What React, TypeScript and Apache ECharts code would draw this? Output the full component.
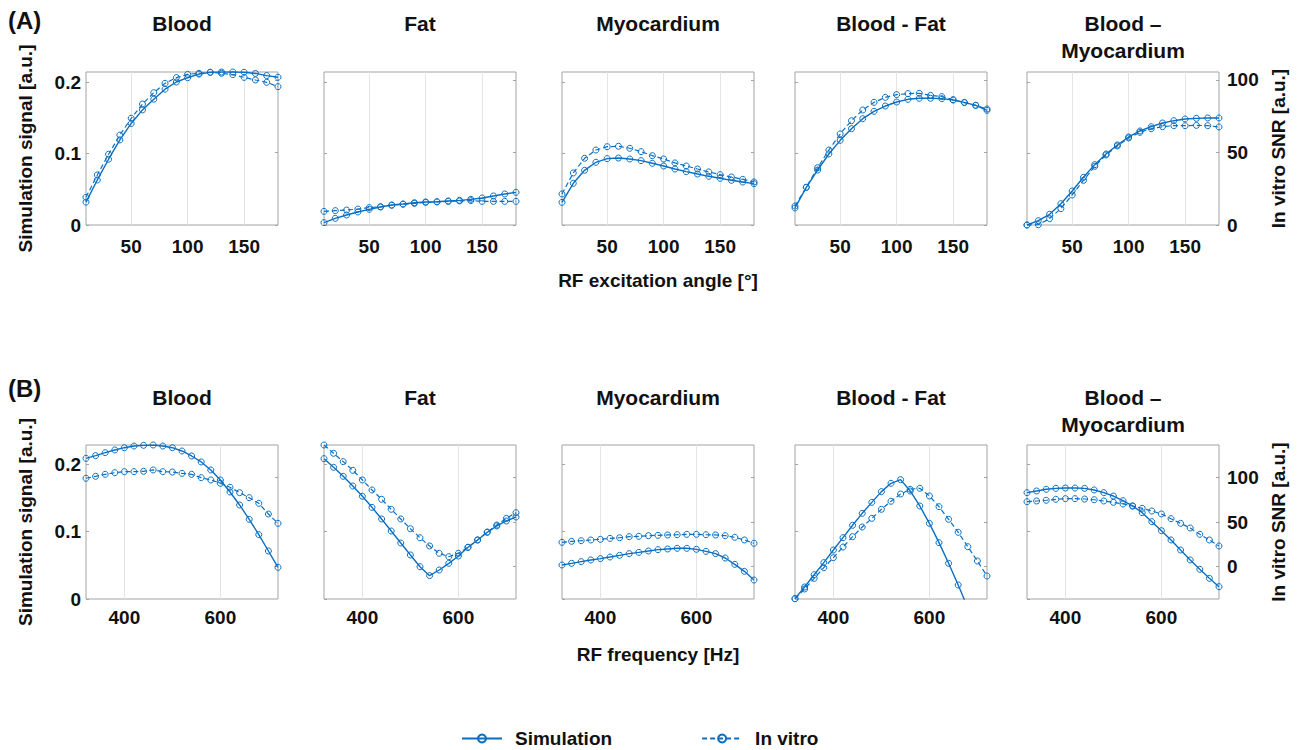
import React, { useEffect, useRef } from 'react';
import * as echarts from 'echarts';

// ---------- data ----------
const anglesA = [10, 20, 30, 40, 50, 60, 70, 80, 90, 100, 110, 120, 130, 140, 150, 160, 170, 180];
const freqsB = [320, 340, 360, 380, 400, 420, 440, 460, 480, 500, 520, 540, 560, 580, 600, 620, 640, 660, 680, 700, 720];

const panelTitles = ['Blood', 'Fat', 'Myocardium', 'Blood - Fat', 'Blood –\nMyocardium'];

const xTicksA = [50, 100, 150];
const xTicksB = [400, 600];
const leftTicks = [0, 0.1, 0.2];
const rightTicks = [0, 50, 100];

// (A) RF excitation angle: simulation signal [a.u.]
const bloodSimA = [0.032, 0.063, 0.092, 0.119, 0.142, 0.161, 0.176, 0.19, 0.2, 0.206, 0.211, 0.2136, 0.214, 0.214, 0.2136, 0.212, 0.209, 0.2066];
const fatSimA = [0.0033, 0.0093, 0.014, 0.0182, 0.0219, 0.0252, 0.028, 0.0294, 0.0312, 0.0322, 0.0326, 0.0336, 0.0345, 0.0359, 0.0378, 0.0406, 0.0434, 0.0457];
const myoSimA = [0.0317, 0.0583, 0.0765, 0.0877, 0.0928, 0.0937, 0.0923, 0.09, 0.0863, 0.0825, 0.0783, 0.0746, 0.0713, 0.0681, 0.0653, 0.0625, 0.0601, 0.0578];
const bloodFatSimA = [0.0238, 0.0527, 0.0769, 0.0993, 0.1184, 0.1347, 0.1487, 0.159, 0.1664, 0.172, 0.1758, 0.1772, 0.1772, 0.1767, 0.1748, 0.1716, 0.1674, 0.1604];
const bloodMyoSimA = [0.0, 0.006, 0.015, 0.0298, 0.0476, 0.0667, 0.0844, 0.0993, 0.1119, 0.1231, 0.1315, 0.1375, 0.1427, 0.1459, 0.1483, 0.1492, 0.1497, 0.1497];

// (A) in vitro SNR [a.u.]
const bloodVitroA = [19.1, 34.5, 48.8, 62, 73.6, 83.4, 91.2, 97.7, 101.6, 103.9, 104.6, 105.3, 104.6, 103.7, 101.8, 100, 98.4, 95.4];
const fatVitroA = [9.4, 9.9, 10.3, 11.0, 12.0, 12.6, 13.6, 14.3, 14.9, 15.6, 15.9, 16.3, 16.6, 16.8, 16.3, 16.3, 16.3, 16.3];
const myoVitroA = [21.4, 35.9, 46, 51.7, 54, 54.3, 52.9, 50.6, 47.8, 45.5, 42.8, 40.7, 38.6, 36.6, 34.7, 33.1, 31.5, 29.7];
const bloodFatVitroA = [13.1, 26, 39.5, 51.7, 62.8, 71.9, 79.3, 84.6, 88, 89.9, 90.6, 90.8, 89.4, 88.5, 86.4, 84.4, 82.5, 80];
const bloodMyoVitroA = [0, 0.2, 4.4, 11.3, 20.7, 30.8, 40.5, 48.3, 54.5, 60, 63.9, 66.4, 67.8, 68.5, 68.5, 68.7, 68.5, 67.6];

// (B) RF frequency: simulation signal [a.u.]
const bloodSimB = [0.209, 0.213, 0.2174, 0.2214, 0.2248, 0.2273, 0.2283, 0.2288, 0.2273, 0.2248, 0.2199, 0.2125, 0.2036, 0.1917, 0.1768, 0.159, 0.1397, 0.1184, 0.0956, 0.0713, 0.0471];
const fatSimB = [0.2085, 0.1956, 0.1823, 0.1679, 0.1526, 0.1362, 0.1189, 0.101, 0.0832, 0.0654, 0.048, 0.0347, 0.0431, 0.053, 0.0639, 0.0768, 0.0877, 0.0991, 0.1085, 0.1159, 0.1218];
const myoSimB = [0.0505, 0.053, 0.0555, 0.058, 0.06, 0.0624, 0.0649, 0.0674, 0.0693, 0.0713, 0.0733, 0.0743, 0.0753, 0.0753, 0.0738, 0.0708, 0.0674, 0.0609, 0.0515, 0.0411, 0.0282];
const bloodFatSimB = [0.0005, 0.0178, 0.0361, 0.054, 0.0728, 0.0911, 0.1095, 0.1273, 0.1436, 0.1595, 0.1719, 0.1773, 0.1605, 0.1382, 0.1124, 0.0837, 0.053, 0.0208, -0.013, -0.045, -0.075];
const bloodMyoSimB = [0.158, 0.1605, 0.163, 0.1644, 0.1649, 0.1649, 0.1644, 0.162, 0.158, 0.153, 0.146, 0.1382, 0.1283, 0.1149, 0.1015, 0.0877, 0.0728, 0.058, 0.0441, 0.0307, 0.0183];

// (B) in vitro SNR [a.u.]
const bloodVitroB = [98.9, 101.1, 103.3, 105.1, 106.3, 106.3, 106.7, 108.2, 106.3, 105.9, 104.4, 103.3, 99.6, 97, 93.3, 88.8, 82.8, 77.2, 70.9, 58.9, 48.5];
const fatVitroB = [136.1, 126.8, 117.5, 107.8, 97, 85.8, 75.4, 64.2, 53.4, 42.5, 32.4, 23.2, 15, 11.2, 15, 21.7, 29.9, 38.8, 46.6, 54.1, 60.4];
const myoVitroB = [27.3, 28.4, 29.1, 29.9, 30.6, 31.7, 32.4, 33.6, 34, 34.7, 35.1, 35.5, 35.8, 36.2, 36.2, 35.8, 35.5, 34.7, 32.9, 29.9, 26.2];
const bloodFatVitroB = [-35.8, -24.9, -13, -1.1, 10.1, 22, 33.6, 44.4, 54.1, 64.2, 73.2, 81.3, 86.6, 87.7, 79.1, 67.1, 53, 38.5, 22.4, 6.4, -10.4];
const bloodMyoVitroB = [72.7, 73.5, 74.3, 75.4, 76.1, 76.1, 75.7, 74.9, 73.5, 72, 70.1, 67.9, 65.3, 62.3, 59, 53.7, 48.5, 43.3, 36.2, 29.9, 23.2];

// ---------- styling / layout ----------
const FONT = '"Liberation Sans", Arial, Helvetica, sans-serif';
const BLUE = '#0a6fc2';
const TEXT = '#111111';
const BOX = '#a3a3a3';
const GRIDC = '#e4e4e4';
const PLOT_LEFTS = [86, 324, 562, 795, 1027];
const PLOT_W = 192;

const rows = [
  {
    label: '(A)', labelY: 20, titleY: 9.5,
    xs: anglesA, xMin: 10, xMax: 180, xTicks: xTicksA,
    leftMax: 0.214, rightMin: 0, rightMax: 105.5,
    top: 72, height: 153, labelMargin: 12, xName: 'RF excitation angle [°]', xNameGap: 46,
    sims: [bloodSimA, fatSimA, myoSimA, bloodFatSimA, bloodMyoSimA],
    vitros: [bloodVitroA, fatVitroA, myoVitroA, bloodFatVitroA, bloodMyoVitroA],
  },
  {
    label: '(B)', labelY: 388, titleY: 383.5,
    xs: freqsB, xMin: 320, xMax: 720, xTicks: xTicksB,
    leftMax: 0.2288, rightMin: -36.1, rightMax: 136.1,
    top: 445, height: 154, labelMargin: 9, xName: 'RF frequency [Hz]', xNameGap: 46,
    sims: [bloodSimB, fatSimB, myoSimB, bloodFatSimB, bloodMyoSimB],
    vitros: [bloodVitroB, fatVitroB, myoVitroB, bloodFatVitroB, bloodMyoVitroB],
  },
];

const labelStyle = { fontSize: 19, fontWeight: 'bold' as const, color: TEXT, fontFamily: FONT };

function buildOption() {
  const grid: any[] = [];
  const xAxis: any[] = [];
  const yAxis: any[] = [];
  const series: any[] = [];
  const graphic: any[] = [];

  rows.forEach((row, r) => {
    graphic.push({
      type: 'text', x: 8, y: row.labelY,
      style: { text: row.label, fill: TEXT, font: `bold 24px ${FONT}`, align: 'left', verticalAlign: 'middle' },
    });
    PLOT_LEFTS.forEach((left, c) => {
      const gi = r * 5 + c;
      graphic.push({
        type: 'text', x: left + PLOT_W / 2, y: row.titleY,
        style: { text: panelTitles[c], fill: TEXT, font: `bold 21px ${FONT}`, align: 'center', verticalAlign: 'top', lineHeight: 27 },
      });
      grid.push({
        left, top: row.top, width: PLOT_W, height: row.height,
        show: true, borderColor: BOX, borderWidth: 1, backgroundColor: 'transparent',
      });
      xAxis.push({
        type: 'value', gridIndex: gi, min: row.xMin, max: row.xMax,
        axisLine: { show: false },
        axisTick: { show: true, inside: true, length: 3, customValues: row.xTicks, lineStyle: { color: BOX } },
        axisLabel: { show: true, customValues: row.xTicks, margin: row.labelMargin, ...labelStyle },
        splitLine: { show: false },
        name: c === 2 ? row.xName : '', nameLocation: 'middle', nameGap: row.xNameGap,
        nameTextStyle: labelStyle,
      });
      yAxis.push({
        type: 'value', gridIndex: gi, position: 'left', min: 0, max: row.leftMax,
        axisLine: { show: false },
        axisTick: { show: true, inside: true, length: 3, customValues: leftTicks, lineStyle: { color: BOX } },
        axisLabel: { show: c === 0, customValues: leftTicks, margin: 5, ...labelStyle },
        splitLine: { show: false },
        name: c === 0 ? 'Simulation signal [a.u.]' : '', nameLocation: 'middle', nameGap: 51, nameRotate: 90,
        nameTextStyle: labelStyle,
      });
      yAxis.push({
        type: 'value', gridIndex: gi, position: 'right', min: row.rightMin, max: row.rightMax,
        axisLine: { show: false },
        axisTick: { show: true, inside: true, length: 3, customValues: rightTicks, lineStyle: { color: BOX } },
        axisLabel: { show: c === 4, customValues: rightTicks, margin: 8, ...labelStyle },
        splitLine: { show: false },
        name: c === 4 ? 'In vitro SNR [a.u.]' : '', nameLocation: 'middle', nameGap: 50, nameRotate: 90,
        nameTextStyle: labelStyle,
      });
      const common = {
        type: 'line', xAxisIndex: gi, symbol: 'circle', symbolSize: 6, clip: true,
        itemStyle: { color: 'rgba(255,255,255,0)', borderColor: BLUE, borderWidth: 1 },
        emphasis: { disabled: true },
        z: 3,
      };
      series.push({
        ...common, name: 'Simulation', yAxisIndex: gi * 2,
        lineStyle: { color: BLUE, width: 1.4, type: 'solid' },
        data: row.xs.map((x, k) => [x, row.sims[c][k]]),
        markLine: {
          silent: true, symbol: 'none', z: 1, animation: false,
          label: { show: false },
          lineStyle: { color: GRIDC, width: 1, type: 'solid' },
          emphasis: { disabled: true },
          data: row.xTicks.map((v) => ({ xAxis: v })),
        },
      });
      series.push({
        ...common, name: 'In vitro', yAxisIndex: gi * 2 + 1,
        lineStyle: { color: BLUE, width: 1.2, type: [5, 3] },
        data: row.xs.map((x, k) => [x, row.vitros[c][k]]),
      });
    });
  });

  return {
    animation: false,
    backgroundColor: '#ffffff',
    textStyle: { fontFamily: FONT },
    grid, xAxis, yAxis, series, graphic,
    legend: {
      data: ['Simulation', 'In vitro'],
      left: 456, top: 724,
      itemWidth: 40, itemHeight: 10, itemGap: 89,
      selectedMode: false,
      textStyle: { ...labelStyle, padding: [0, 0, 0, 8] },
    },
  };
}

export default function App() {
  const ref = useRef<HTMLDivElement>(null);
  useEffect(() => {
    if (!ref.current) return;
    const chart = echarts.init(ref.current, undefined, { renderer: 'svg' });
    chart.setOption(buildOption() as any);
    return () => chart.dispose();
  }, []);
  return (
    <div
      ref={ref}
      style={{ position: 'absolute', left: 0, top: 0, width: 1301, height: 750, background: '#fff' }}
    />
  );
}
